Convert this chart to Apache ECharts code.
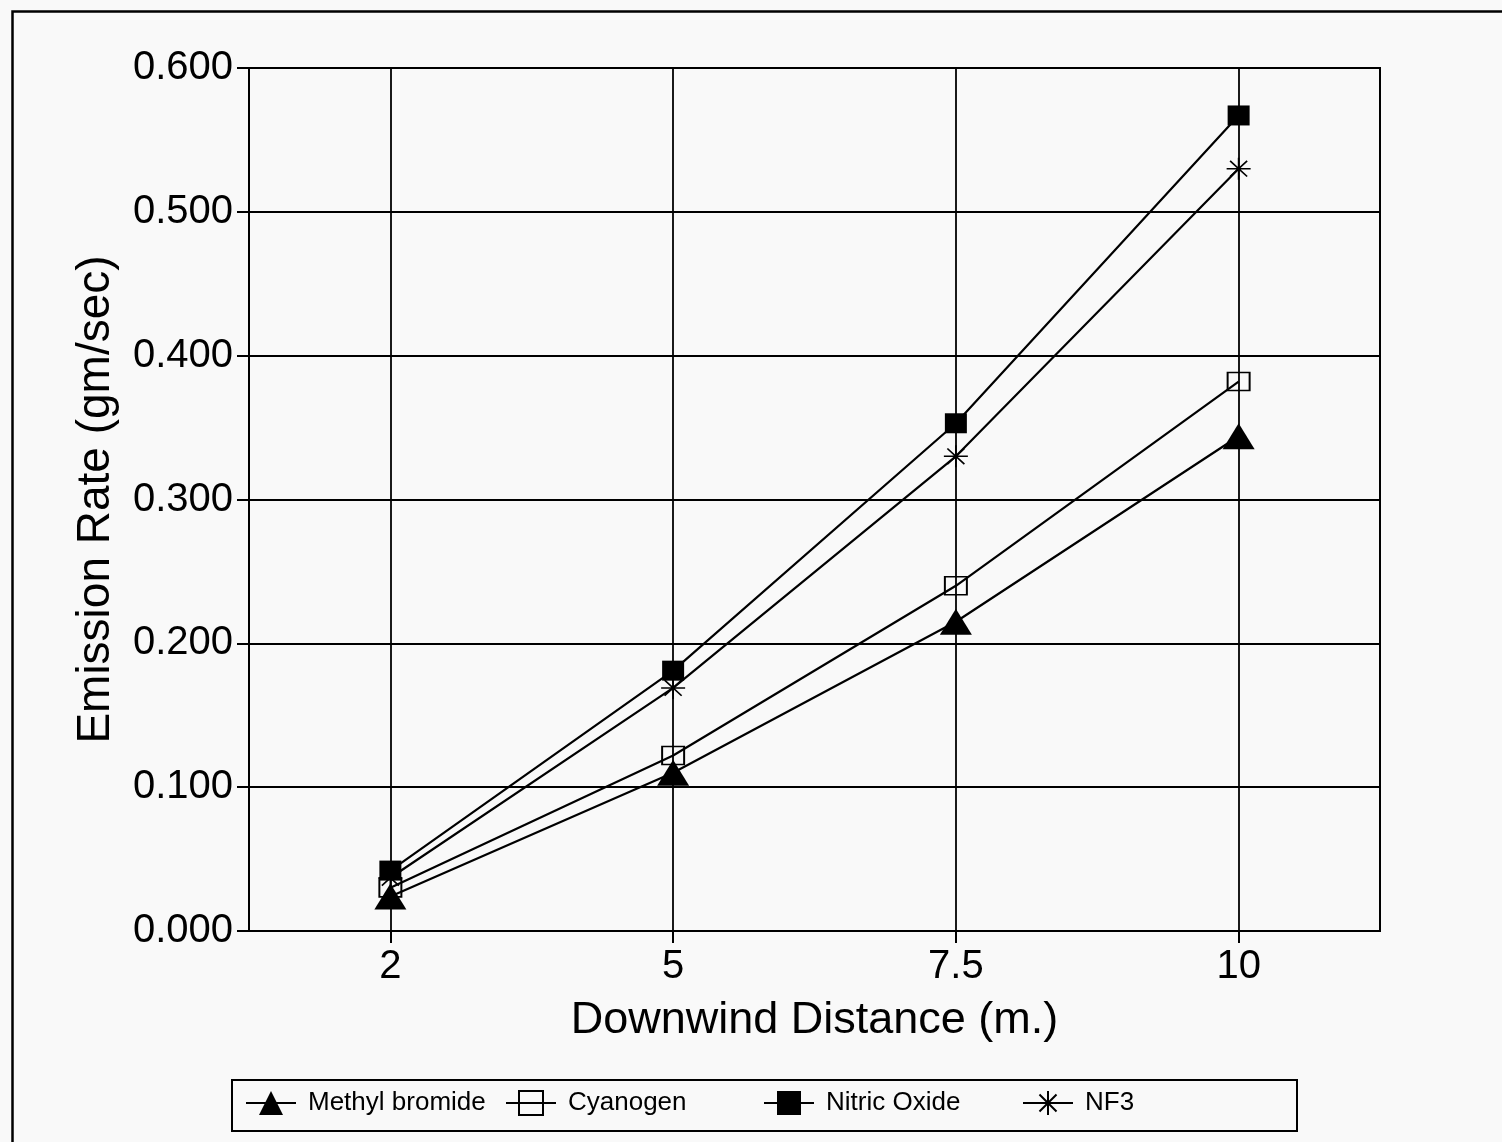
<!DOCTYPE html>
<html>
<head>
<meta charset="utf-8">
<title>Emission Rate vs Downwind Distance</title>
<script src="https://cdn.jsdelivr.net/npm/echarts@6/dist/echarts.min.js"></script>
<style>
  html, body { margin: 0; padding: 0; background: #f9f9f9; }
  #chart { width: 1502px; height: 1142px; }
</style>
</head>
<body>
<div id="chart"></div>
<script>
// Downwind distance categories (m.)
const distances = ['2', '5', '7.5', '10'];

// Emission rates (gm/sec) per compound
const methylBromide = [0.024, 0.110, 0.215, 0.344];
const cyanogen      = [0.030, 0.122, 0.240, 0.382];
const nitricOxide   = [0.042, 0.181, 0.353, 0.567];
const nf3           = [0.037, 0.169, 0.330, 0.530];

const seriesNames = ['Methyl bromide', 'Cyanogen', 'Nitric Oxide', 'NF3'];

// Y axis ticks
const yMin = 0, yMax = 0.6, yStep = 0.1;

const FONT = '"Liberation Sans", Arial, Helvetica, sans-serif';
const INK = '#000';

// asterisk marker: horizontal, vertical and two diagonal strokes
const starPath = 'path://M0,10L20,10M10,0L10,20M2.9,2.9L17.1,17.1M17.1,2.9L2.9,17.1';

const chart = echarts.init(document.getElementById('chart'), null, { renderer: 'canvas' });

function lineSeries(name, data, symbol, symbolSize, itemStyle) {
  return {
    name: name,
    type: 'line',
    data: data,
    symbol: symbol,
    symbolSize: symbolSize,
    showAllSymbol: true,
    lineStyle: { color: INK, width: 2.2 },
    itemStyle: itemStyle,
    emphasis: { disabled: true },
    z: 5
  };
}

const legendLefts = [245, 505, 763, 1022];
const legends = seriesNames.map((n, i) => ({
  data: [n],
  left: legendLefts[i],
  top: 1090,
  padding: 0,
  itemWidth: 50,
  itemHeight: 30,
  selectedMode: false,
  textStyle: { fontFamily: FONT, fontSize: 26, color: INK, padding: [0, 0, 0, 7] }
}));

const option = {
  backgroundColor: '#f9f9f9',
  animation: false,
  graphic: [
    // outer frame
    { type: 'rect', left: 10, top: 9, shape: { x: 0, y: 0, width: 1500, height: 1150 },
      style: { fill: 'none', stroke: INK, lineWidth: 2.5 }, z: 0, silent: true },
    // legend box
    { type: 'rect', shape: { x: 232, y: 1080, width: 1065, height: 51 },
      style: { fill: 'none', stroke: INK, lineWidth: 2 }, z: 0, silent: true }
  ],
  legend: legends,
  grid: {
    left: 249, right: 122, top: 68, bottom: 211,
    show: true, borderColor: INK, borderWidth: 2, backgroundColor: 'transparent'
  },
  xAxis: {
    type: 'category',
    data: distances,
    boundaryGap: true,
    name: 'Downwind Distance (m.)',
    nameLocation: 'middle',
    nameGap: 67,
    nameTextStyle: { fontFamily: FONT, fontSize: 45, color: INK },
    axisLine: { lineStyle: { color: INK, width: 2 } },
    axisTick: { show: true, alignWithLabel: true, length: 12, lineStyle: { color: INK, width: 2 } },
    axisLabel: { fontFamily: FONT, fontSize: 40, color: INK, margin: 16 },
    splitLine: { show: false }
  },
  yAxis: {
    type: 'value',
    min: yMin, max: yMax, interval: yStep,
    name: 'Emission Rate (gm/sec)',
    nameLocation: 'middle',
    nameGap: 130,
    nameTextStyle: { fontFamily: FONT, fontSize: 46, color: INK },
    axisLine: { show: true, lineStyle: { color: INK, width: 2 } },
    axisTick: { show: true, length: 12, lineStyle: { color: INK, width: 2 } },
    axisLabel: { fontFamily: FONT, fontSize: 40, color: INK, margin: 16,
      formatter: v => v.toFixed(3) },
    splitLine: { show: true, lineStyle: { color: INK, width: 1.8 } }
  },
  series: [
    Object.assign(
      lineSeries(seriesNames[0], methylBromide, 'triangle', [32, 26], { color: INK }),
      {
        // vertical grid lines at each distance
        markLine: {
          silent: true,
          symbol: 'none',
          label: { show: false },
          lineStyle: { color: INK, width: 1.8, type: 'solid' },
          emphasis: { disabled: true },
          data: distances.map(d => ({ xAxis: d }))
        }
      }
    ),
    lineSeries(seriesNames[1], cyanogen, 'rect', [22, 18],
      { color: 'rgba(0,0,0,0)', borderColor: INK, borderWidth: 1.8 }),
    lineSeries(seriesNames[2], nitricOxide, 'rect', [22, 20], { color: INK }),
    lineSeries(seriesNames[3], nf3, starPath, [24, 22],
      { color: INK, borderColor: INK, borderWidth: 1.6 })
  ]
};

chart.setOption(option);
</script>
</body>
</html>
